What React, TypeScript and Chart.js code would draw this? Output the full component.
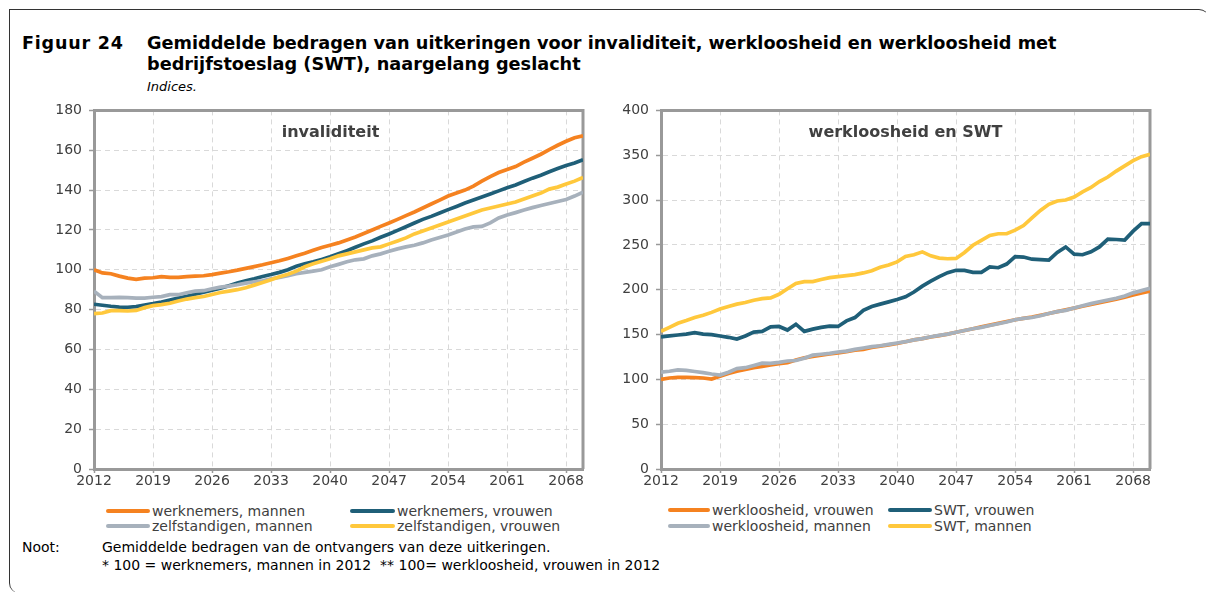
import React, { useEffect, useRef } from 'react';
import { Chart, registerables } from 'chart.js';

Chart.register(...registerables);

const FONT = '"DejaVu Sans", Verdana, sans-serif';

const years = [
  2012, 2013, 2014, 2015, 2016, 2017, 2018, 2019, 2020, 2021,
  2022, 2023, 2024, 2025, 2026, 2027, 2028, 2029, 2030, 2031,
  2032, 2033, 2034, 2035, 2036, 2037, 2038, 2039, 2040, 2041,
  2042, 2043, 2044, 2045, 2046, 2047, 2048, 2049, 2050, 2051,
  2052, 2053, 2054, 2055, 2056, 2057, 2058, 2059, 2060, 2061,
  2062, 2063, 2064, 2065, 2066, 2067, 2068, 2069, 2070,
];

const xTickYears = [2012, 2019, 2026, 2033, 2040, 2047, 2054, 2061, 2068];

// Left panel: invaliditeit
const werknemersMannen = [
  100.0, 98.4, 98.0, 96.8, 95.8, 95.2, 95.8, 96.0, 96.6, 96.2,
  96.2, 96.6, 96.8, 97.0, 97.6, 98.3, 99.0, 99.8, 100.7, 101.6,
  102.5, 103.5, 104.5, 105.7, 107.0, 108.3, 109.8, 111.2, 112.3, 113.5,
  115.0, 116.5, 118.2, 120.0, 121.8, 123.5, 125.3, 127.2, 129.0, 131.0,
  133.0, 135.0, 137.0, 138.5, 140.0, 142.0, 144.5, 146.8, 148.8, 150.3,
  151.8, 154.0, 156.0, 158.0, 160.3, 162.5, 164.5, 166.3, 167.2,
];
const werknemersVrouwen = [
  82.7, 82.2, 81.7, 81.3, 81.2, 81.5, 82.3, 83.0, 83.8, 84.8,
  85.8, 86.7, 87.7, 88.8, 89.8, 90.8, 92.0, 93.3, 94.5, 95.5,
  96.6, 97.6, 98.7, 100.0, 101.8, 103.0, 104.0, 105.2, 106.5, 108.0,
  109.6, 111.3, 113.0, 114.5, 116.3, 118.0, 119.8, 121.6, 123.5, 125.3,
  126.8, 128.5, 130.2, 131.8, 133.5, 135.0, 136.5, 138.0, 139.6, 141.2,
  142.6, 144.3, 146.0, 147.5, 149.2, 150.8, 152.3, 153.6, 155.2,
];
const zelfstandigenMannen = [
  89.3, 86.0, 86.0, 86.1, 86.0, 85.8, 85.8, 86.2, 86.5, 87.5,
  87.5, 88.5, 89.3, 89.5, 90.5, 91.3, 91.8, 92.5, 93.3, 94.0,
  94.5, 95.5, 96.2, 97.0, 98.0, 98.7, 99.3, 100.0, 101.5, 102.7,
  104.0, 105.0, 105.5, 107.0, 108.0, 109.3, 110.5, 111.5, 112.3, 113.5,
  115.0, 116.2, 117.5, 119.0, 120.5, 121.5, 121.8, 123.5, 126.0, 127.5,
  128.7, 130.0, 131.2, 132.3, 133.3, 134.3, 135.3, 137.0, 139.0,
];
const zelfstandigenVrouwen = [
  78.0, 78.3, 79.5, 79.5, 79.3, 79.6, 81.0, 82.0, 82.5, 83.2,
  84.3, 85.3, 86.0, 86.6, 87.6, 88.6, 89.3, 90.0, 91.0, 92.3,
  93.6, 95.0, 96.5, 97.8, 99.3, 101.5, 103.0, 104.3, 105.5, 107.0,
  108.0, 109.0, 110.0, 111.0, 111.5, 113.0, 114.5, 116.0, 118.0, 119.5,
  121.0, 122.5, 124.0, 125.5, 127.0, 128.5, 130.0, 131.0, 132.0, 133.0,
  134.0, 135.5, 137.0, 138.5, 140.5, 141.5, 143.0, 144.5, 146.3,
];

// Right panel: werkloosheid en SWT
const werkloosheidVrouwen = [
  100.0, 101.5, 102.2, 102.3, 102.0, 101.5, 100.4, 103.5, 106.5, 109.0,
  111.0, 113.0, 114.5, 116.0, 117.5, 118.5, 121.5, 124.0, 125.5, 127.0,
  128.3, 129.5, 131.0, 132.5, 133.5, 135.5, 137.0, 138.5, 140.0, 142.0,
  144.0, 145.5, 147.2, 148.8, 150.5, 152.5, 154.5, 156.5, 158.5, 160.5,
  162.5, 164.5, 166.5, 168.0, 169.5, 171.5, 173.5, 175.5, 177.5, 179.5,
  181.5, 183.5, 185.5, 187.5, 189.5, 191.5, 194.0, 196.5, 198.5,
];
const swtVrouwen = [
  147.3, 148.4, 149.5, 150.5, 152.0, 150.5, 149.8, 148.4, 146.9, 145.0,
  148.4, 152.7, 153.5, 158.6, 159.0, 155.0, 161.5, 153.5, 156.0, 157.9,
  159.3, 159.0, 165.2, 168.9, 176.9, 181.3, 183.9, 186.4, 189.0, 192.0,
  197.4, 204.0, 209.5, 214.6, 219.0, 221.6, 221.6, 219.4, 219.4, 225.3,
  224.5, 228.6, 237.0, 236.4, 234.0, 233.5, 233.0, 241.5, 247.7, 239.7,
  239.0, 242.2, 247.7, 256.5, 256.0, 255.4, 265.3, 273.7, 273.7,
];
const werkloosheidMannen = [
  108.0, 109.0, 110.5, 110.0, 108.8, 107.5, 106.0, 104.8, 108.0, 112.0,
  113.0, 115.5, 118.0, 117.8, 119.0, 120.5, 121.0, 123.5, 127.0, 128.0,
  129.0, 130.5, 131.5, 133.5, 135.0, 136.5, 137.5, 139.0, 140.5, 142.0,
  144.0, 145.5, 147.5, 149.0, 150.5, 152.5, 154.5, 156.5, 158.0, 160.0,
  162.0, 164.0, 166.5, 168.0, 169.0, 171.0, 173.5, 175.5, 177.0, 179.5,
  182.0, 184.5, 186.5, 188.5, 190.5, 193.0, 196.5, 199.0, 201.5,
];
const swtMannen = [
  153.5, 158.0, 162.6, 165.6, 168.9, 171.4, 174.7, 178.4, 181.3, 183.9,
  185.7, 188.3, 190.1, 190.8, 194.9, 201.0, 207.0, 209.0, 209.0, 211.4,
  213.5, 214.6, 215.7, 216.8, 218.7, 221.2, 225.0, 227.5, 231.0, 237.0,
  239.0, 242.2, 237.8, 235.3, 234.5, 234.9, 241.5, 249.6, 255.0, 260.5,
  262.4, 262.4, 266.4, 271.5, 280.0, 288.4, 295.3, 299.0, 300.0, 303.4,
  309.2, 314.0, 320.6, 325.7, 332.3, 338.1, 344.0, 348.4, 351.0,
];

const ORANGE = '#F58220';
const TEAL = '#1F5F78';
const GRAY = '#A7B1BC';
const YELLOW = '#FFC83C';

const leftSeries = [
  { label: 'werknemers, mannen', data: werknemersMannen, color: ORANGE },
  { label: 'werknemers, vrouwen', data: werknemersVrouwen, color: TEAL },
  { label: 'zelfstandigen, mannen', data: zelfstandigenMannen, color: GRAY },
  { label: 'zelfstandigen, vrouwen', data: zelfstandigenVrouwen, color: YELLOW },
];
const rightSeries = [
  { label: 'werkloosheid, vrouwen', data: werkloosheidVrouwen, color: ORANGE },
  { label: 'SWT, vrouwen', data: swtVrouwen, color: TEAL },
  { label: 'werkloosheid, mannen', data: werkloosheidMannen, color: GRAY },
  { label: 'SWT, mannen', data: swtMannen, color: YELLOW },
];

const innerTitle = {
  id: 'innerTitle',
  afterDraw(chart: any, _args: any, opts: any) {
    const { ctx, chartArea } = chart;
    ctx.save();
    ctx.font = `bold 16px ${FONT}`;
    ctx.fillStyle = '#404040';
    ctx.textAlign = 'center';
    ctx.textBaseline = 'middle';
    ctx.fillText(opts.text, (chartArea.left + chartArea.right) / 2 + (opts.dx || 0), chartArea.top + 22);
    ctx.restore();
  },
};

const boxBorder = {
  id: 'boxBorder',
  beforeDatasetsDraw(chart: any) {
    const { ctx, chartArea } = chart;
    ctx.save();
    ctx.strokeStyle = '#999999';
    ctx.lineWidth = 3;
    ctx.beginPath();
    ctx.moveTo(chartArea.left, chartArea.top);
    ctx.lineTo(chartArea.right, chartArea.top);
    ctx.lineTo(chartArea.right, chartArea.bottom);
    ctx.stroke();
    ctx.restore();
  },
};

function makeConfig(series: any[], yMax: number, yStep: number, title: string, dx: number): any {
  const n = series.length;
  return {
    type: 'line',
    data: {
      datasets: series.map((s, i) => ({
        label: s.label,
        data: years.map((y, j) => ({ x: y, y: s.data[j] })),
        borderColor: s.color,
        backgroundColor: s.color,
        borderWidth: 3.7,
        pointRadius: 0,
        tension: 0,
        fill: false,
        order: n - i,
      })),
    },
    options: {
      animation: false,
      responsive: false,
      maintainAspectRatio: false,
      layout: { padding: { top: 12, right: 17, left: 0, bottom: 0 } },
      plugins: {
        legend: { display: false },
        tooltip: { enabled: false },
        innerTitle: { text: title, dx },
      },
      scales: {
        x: {
          type: 'linear',
          min: years[0],
          max: years[years.length - 1],
          afterBuildTicks(scale: any) {
            scale.ticks = xTickYears.map((v) => ({ value: v }));
          },
          afterFit(scale: any) {
            scale.height = 23;
          },
          ticks: {
            autoSkip: false,
            maxRotation: 0,
            padding: 0,
            color: '#404040',
            font: { family: FONT, size: 14 },
            callback: (v: any) => String(v),
          },
          grid: {
            color: '#D9D9D9',
            lineWidth: 1,
            drawTicks: true,
            tickLength: 4,
            tickColor: '#999999',
            tickWidth: 1.5,
          },
          border: { display: true, color: '#999999', width: 3, dash: [5, 4] },
        },
        y: {
          min: 0,
          max: yMax,
          afterFit(scale: any) {
            scale.width = 54;
          },
          ticks: {
            stepSize: yStep,
            padding: 7,
            color: '#404040',
            font: { family: FONT, size: 14 },
          },
          grid: {
            color: '#D9D9D9',
            lineWidth: 1,
            drawTicks: true,
            tickLength: 5,
            tickColor: '#999999',
            tickWidth: 1.5,
          },
          border: { display: true, color: '#999999', width: 3, dash: [5, 4] },
        },
      },
    },
    plugins: [innerTitle, boxBorder],
  };
}

function LineChart(props: { series: any[]; yMax: number; yStep: number; title: string; dx: number; style: any }) {
  const ref = useRef<HTMLCanvasElement>(null);
  useEffect(() => {
    if (!ref.current) return;
    const chart = new Chart(ref.current, makeConfig(props.series, props.yMax, props.yStep, props.title, props.dx));
    return () => chart.destroy();
  }, []);
  return <canvas ref={ref} width={560} height={397} style={{ position: 'absolute', width: 560, height: 397, ...props.style }} />;
}

function LegendItem(props: { x: number; tx: number; w: number; y: number; color: string; label: string }) {
  return (
    <>
      <div style={{ position: 'absolute', left: props.x, top: props.y - 2, width: props.w, height: 4, background: props.color, borderRadius: 2 }} />
      <div style={{ position: 'absolute', left: props.tx, top: props.y - 9, height: 18, lineHeight: '18px', fontSize: 14, color: '#404040', whiteSpace: 'nowrap' }}>
        {props.label}
      </div>
    </>
  );
}

export default function App() {
  const text: any = { position: 'absolute', whiteSpace: 'pre', color: '#000' };
  return (
    <div style={{ position: 'relative', width: 1200, height: 584, fontFamily: FONT }}>
      <div
        style={{
          position: 'absolute',
          left: 1,
          top: 1,
          width: 1200,
          height: 584,
          borderTop: '1.5px solid #333',
          borderLeft: '1.5px solid #333',
          borderTopRightRadius: 10,
          borderBottomLeftRadius: 10,
          boxSizing: 'border-box',
        }}
      />
      <div style={{ ...text, left: 14, top: 23, lineHeight: '24px', fontSize: 17.5, fontWeight: 'bold', letterSpacing: 0.8 }}>Figuur 24</div>
      <div style={{ ...text, left: 139, top: 23, lineHeight: '24px', fontSize: 17.7, fontWeight: 'bold' }}>
        Gemiddelde bedragen van uitkeringen voor invaliditeit, werkloosheid en werkloosheid met
      </div>
      <div style={{ ...text, left: 139, top: 44, lineHeight: '24px', fontSize: 17.7, fontWeight: 'bold' }}>
        bedrijfstoeslag (SWT), naargelang geslacht
      </div>
      <div style={{ ...text, left: 139, top: 71, lineHeight: '16px', fontSize: 13, fontStyle: 'italic' }}>Indices.</div>

      <LineChart series={leftSeries} yMax={180} yStep={20} title="invaliditeit" dx={-8} style={{ left: 32, top: 87 }} />
      <LineChart series={rightSeries} yMax={400} yStep={50} title="werkloosheid en SWT" dx={0} style={{ left: 599, top: 87 }} />

      <LegendItem x={98} tx={144} w={44} y={503} color={leftSeries[0].color} label={leftSeries[0].label} />
      <LegendItem x={342} tx={389} w={45} y={503} color={leftSeries[1].color} label={leftSeries[1].label} />
      <LegendItem x={98} tx={144} w={44} y={518} color={leftSeries[2].color} label={leftSeries[2].label} />
      <LegendItem x={342} tx={389} w={45} y={518} color={leftSeries[3].color} label={leftSeries[3].label} />

      <LegendItem x={660} tx={704} w={42} y={502} color={rightSeries[0].color} label={rightSeries[0].label} />
      <LegendItem x={880} tx={926} w={44} y={502} color={rightSeries[1].color} label={rightSeries[1].label} />
      <LegendItem x={660} tx={704} w={42} y={518} color={rightSeries[2].color} label={rightSeries[2].label} />
      <LegendItem x={880} tx={926} w={44} y={518} color={rightSeries[3].color} label={rightSeries[3].label} />

      <div style={{ ...text, left: 14, top: 530, lineHeight: '18px', fontSize: 14 }}>Noot:</div>
      <div style={{ ...text, left: 94, top: 530, lineHeight: '18px', fontSize: 14 }}>
        Gemiddelde bedragen van de ontvangers van deze uitkeringen.
      </div>
      <div style={{ ...text, left: 94, top: 548, lineHeight: '18px', fontSize: 14 }}>
        {'* 100 = werknemers, mannen in 2012  ** 100= werkloosheid, vrouwen in 2012'}
      </div>
    </div>
  );
}
